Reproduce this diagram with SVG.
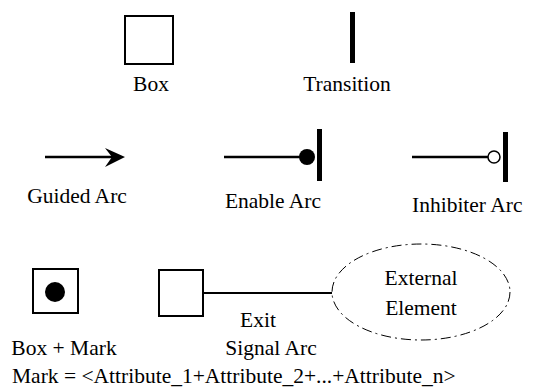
<svg xmlns="http://www.w3.org/2000/svg" width="549" height="387" viewBox="0 0 549 387">
  <style>
    text { font-family: "Liberation Serif", "Times New Roman", Times, "DejaVu Serif", serif; font-size: 21.5px; fill: #000; }
    .c { text-anchor: middle; }
    .box { fill: #fff; stroke: #000; stroke-width: 2; }
    .arc { stroke: #000; stroke-width: 2.5; fill: none; }
    .bar { fill: #000; }
  </style>
  <rect width="549" height="387" fill="#fff"/>

  <g id="box">
    <rect class="box" x="125" y="16" width="48" height="48"/>
    <text class="c" x="151" y="91">Box</text>
  </g>

  <g id="transition">
    <rect class="bar" x="350" y="12" width="5" height="51"/>
    <text class="c" x="347" y="91">Transition</text>
  </g>

  <g id="guided-arc">
    <text class="c" x="77" y="203">Guided Arc</text>
  </g>

  <g id="enable-arc">
    <circle cx="307" cy="157" r="8" fill="#000"/>
    <rect class="bar" x="317" y="129" width="5" height="52"/>
    <text class="c" x="273" y="208">Enable Arc</text>
  </g>

  <g id="inhibiter-arc">
    <circle cx="494" cy="157" r="6" fill="#fff" stroke="#000" stroke-width="1.5"/>
    <rect class="bar" x="503" y="132" width="5" height="50"/>
    <text x="412" y="212">Inhibiter Arc</text>
  </g>

  <g id="box-mark">
    <rect class="box" x="33" y="269" width="45" height="44"/>
    <circle cx="55" cy="292" r="10" fill="#000"/>
    <text class="c" x="64" y="355">Box + Mark</text>
  </g>

  <g id="exit-box">
    <rect class="box" x="159" y="270" width="44" height="46"/>
  </g>

  <g id="external-element">
    <ellipse cx="421" cy="292" rx="89" ry="48" fill="none" stroke="#000" stroke-width="1" stroke-dasharray="10 4 2 4"/>
    <text class="c" x="421" y="285">External</text>
    <text class="c" x="421" y="315">Element</text>
  </g>

  <g id="connectors">
    <line class="arc" x1="45" y1="157" x2="112" y2="157"/>
    <path d="M105,148 L125,157 L105,167 L112,157 Z" fill="#000"/>
    <line class="arc" x1="224" y1="157" x2="300" y2="157"/>
    <line class="arc" x1="412" y1="157" x2="488" y2="157"/>
    <line x1="203" y1="293" x2="332" y2="293" stroke="#000" stroke-width="2"/>
    <text class="c" x="258" y="327">Exit</text>
    <text class="c" x="271" y="355">Signal Arc</text>
  </g>

  <text x="12" y="383">Mark = &lt;Attribute_1+Attribute_2+...+Attribute_n&gt;</text>
</svg>
